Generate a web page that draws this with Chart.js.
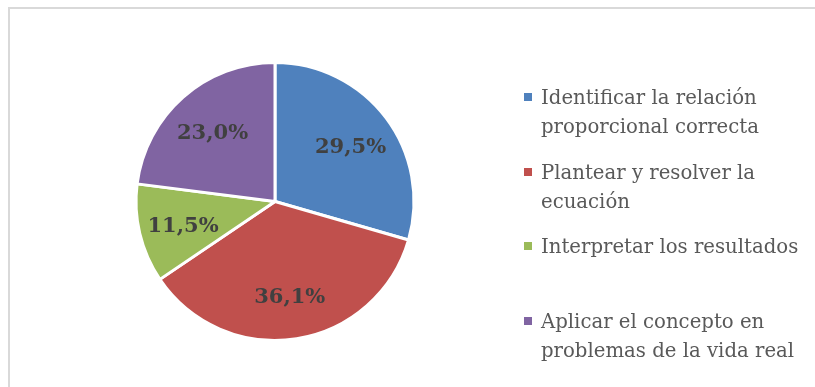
<!DOCTYPE html>
<html>
<head>
<meta charset="utf-8">
<script src="https://cdn.jsdelivr.net/npm/chart.js@4"></script>
<style>
  html, body { margin: 0; padding: 0; background: #fff; overflow: hidden; }
  #wrap { position: relative; width: 815px; height: 387px; overflow: hidden; }
  .line { position: absolute; background: #d9d9d9; }
  #lineTop { left: 8px; top: 7px; width: 807px; height: 2px; }
  #lineLeft { left: 8px; top: 7px; width: 2px; height: 380px; }
  #pieChart { position: absolute; left: 0; top: 0; }
  #legend {
    position: absolute; left: 524px; top: 83px;
    font-family: "DejaVu Serif", serif; font-size: 19.7px; color: #595959;
  }
  .item { position: relative; height: 74.5px; padding-left: 17px; line-height: 29px; white-space: nowrap; }
  .box { position: absolute; left: 0; top: 10px; width: 8px; height: 8px; }
</style>
</head>
<body>
<div id="wrap">
  <div class="line" id="lineTop"></div>
  <div class="line" id="lineLeft"></div>
  <canvas id="pieChart" width="815" height="387"></canvas>
  <div id="legend"></div>
</div>
<script>
const categorias = [
    ['Identificar la relación', 'proporcional correcta'],
    ['Plantear y resolver la', 'ecuación'],
    ['Interpretar los resultados'],
    ['Aplicar el concepto en', 'problemas de la vida real']
];
const porcentajes = [29.5, 36.1, 11.5, 23.0];
const colores = ['#4f81bd', '#c0504d', '#9bbb59', '#8064a2'];

// etiquetas de porcentaje dentro de cada sector
const etiquetasPlugin = {
    id: 'etiquetas',
    afterDatasetsDraw(chart) {
        const ctx = chart.ctx;
        const meta = chart.getDatasetMeta(0);
        ctx.save();
        ctx.font = 'bold 21px "DejaVu Serif", serif';
        ctx.fillStyle = '#404040';
        ctx.textAlign = 'center';
        ctx.textBaseline = 'middle';
        meta.data.forEach((arc, i) => {
            const mid = (arc.startAngle + arc.endAngle) / 2;
            const r = arc.outerRadius * 0.68;
            const x = arc.x + Math.cos(mid) * r;
            const y = arc.y + Math.sin(mid) * r + 3;
            const txt = porcentajes[i].toFixed(1).replace('.', ',') + '%';
            ctx.fillText(txt, x, y);
        });
        ctx.restore();
    }
};

const ctx = document.getElementById('pieChart').getContext('2d');
new Chart(ctx, {
    type: 'pie',
    data: {
        labels: categorias.map(c => c.join(' ')),
        datasets: [{
            data: porcentajes,
            backgroundColor: colores,
            borderColor: '#ffffff',
            borderWidth: 3
        }]
    },
    options: {
        responsive: false,
        animation: false,
        layout: { padding: { left: 0, right: 265, top: 61, bottom: 45 } },
        plugins: {
            legend: { display: false },
            tooltip: { enabled: false }
        }
    },
    plugins: [etiquetasPlugin]
});

// leyenda en HTML
const legend = document.getElementById('legend');
categorias.forEach((lineas, i) => {
    const item = document.createElement('div');
    item.className = 'item';
    const box = document.createElement('span');
    box.className = 'box';
    box.style.background = colores[i];
    item.appendChild(box);
    lineas.forEach((l, j) => {
        if (j > 0) item.appendChild(document.createElement('br'));
        item.appendChild(document.createTextNode(l));
    });
    legend.appendChild(item);
});
</script>
</body>
</html>
